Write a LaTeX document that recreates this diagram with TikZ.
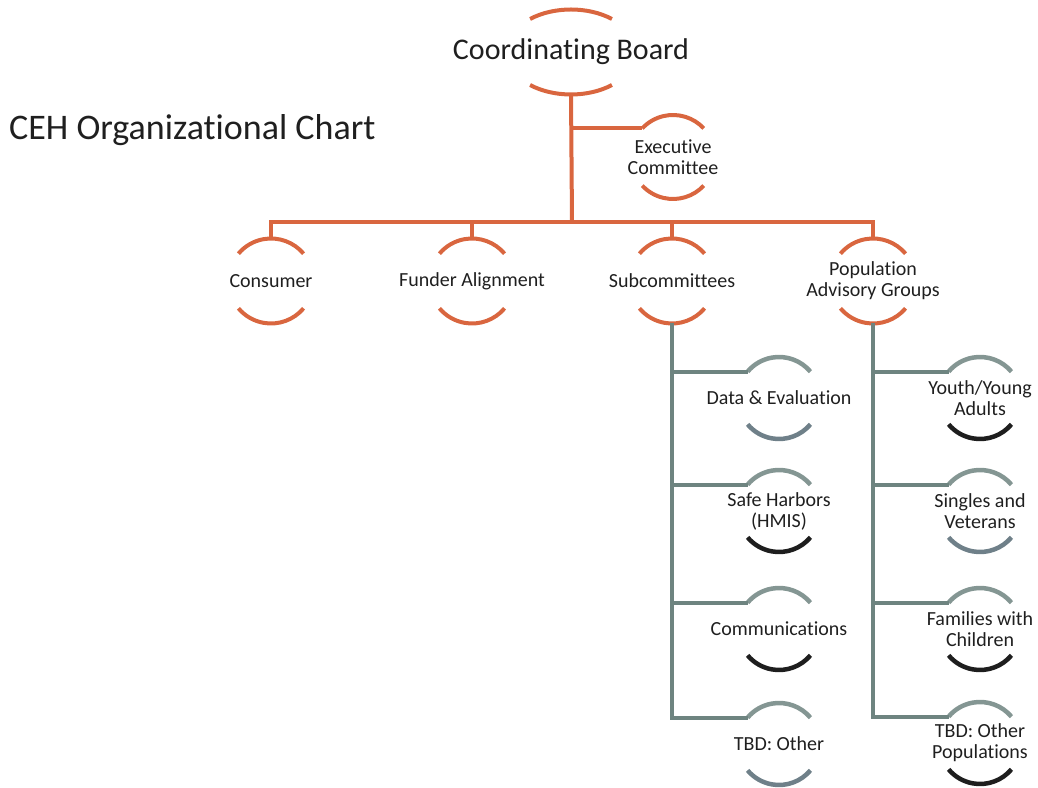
\documentclass[tikz,border=0pt]{standalone}
\usepackage{fontspec}
\setmainfont{Carlito}[Ligatures=CommonOff]
\usetikzlibrary{calc}
\definecolor{cehorange}{HTML}{D9663F}
\definecolor{cehtrunk}{HTML}{6E8480}
\definecolor{cehslate}{HTML}{6F8089}
\definecolor{cehdark}{HTML}{1E1E1E}
\definecolor{cehtext}{HTML}{1F1F1F}
\def\ringarcs[#1][#2](#3)(#4:#5){\draw[#1] ($(#3)+(#4:#5)$) arc (#4:180-#4:#5); \draw[#2] ($(#3)+(-#4:#5)$) arc (-#4:-180+#4:#5);}
\tikzset{
	orgline/.style={cehorange, line width=4pt},
	subline/.style={cehtrunk, line width=4pt},
	toparc/.style={cehtrunk!85, line width=4.5pt},
	slatearc/.style={cehslate, line width=4.5pt},
	darkarc/.style={cehdark, line width=4.5pt},
	box/.style={text=cehtext, align=center, inner sep=0pt, font=\fontsize{20}{21}\selectfont}
}

\begin{document}
\begin{tikzpicture}[x=1pt,y=1pt]
		\useasboundingbox (0,0) rectangle (1038,787);
		
		\node[anchor=base west, inner sep=0pt, text=cehtext, font=\fontsize{36}{40}\selectfont] (title) at (9,647) {CEH Organizational Chart};
		
		%%%%% TOP %%%%%
		\node[box, font=\fontsize{30}{34}\selectfont] (board) at (571,735) {Coordinating Board};
		\ringarcs[orgline][orgline](board)(51:65pt and 42.5pt)
		\node[box] (exec) at (673,630) {Executive\\Committee};
		\ringarcs[orgline][orgline](exec)(43:42pt)
		
		\node[box] (consumer) at (271,506) {Consumer};
		\node[box] (funder) at (472,506) {Funder Alignment};
		\node[box] (subcom) at (672,506) {Subcommittees};
		\node[box] (popgrp) at (873,506) {Population\\Advisory Groups};
		\foreach \n in {consumer,funder,subcom,popgrp} {\ringarcs[orgline][orgline](\n)(40:42.5pt)}
		
		\coordinate (boardfoot) at ($(board)+(0,-42.5)$);
		\coordinate (execjoin) at ($(exec)+(137:42pt)$);
		\coordinate (bar) at (572,565);
		\draw[orgline] (boardfoot) -- (bar);
		\draw[orgline] (boardfoot |- execjoin) -- (execjoin);
		\draw[orgline] ($(consumer)+(0,42.5)$) -- (consumer |- bar) -- (popgrp |- bar) -- ($(popgrp)+(0,42.5)$);
		\foreach \n in {funder,subcom} {\draw[orgline] (\n |- bar) -- ($(\n)+(0,42.5)$);}
		
		%%%%% SUBCOMMITTEES %%%%%
		\node[box] (data) at (779,389) {Data \& Evaluation};
		\node[box] (safe) at (779,276) {Safe Harbors\\(HMIS)};
		\node[box] (comms) at (779,158) {Communications};
		\node[box] (tbdsub) at (779,43) {TBD: Other};
		
		%%%%% POPULATIONS %%%%%
		\node[box] (youth) at (980,389) {Youth/Young\\Adults};
		\node[box] (singles) at (980,276) {Singles and\\Veterans};
		\node[box] (families) at (980,158) {Families with\\Children};
		\node[box] (tbdpop) at (980,44) {TBD: Other\\Populations};
		
		\foreach \n/\c in {data/slatearc,safe/darkarc,comms/darkarc,tbdsub/slatearc,youth/darkarc,singles/slatearc,families/darkarc,tbdpop/darkarc} {
			\ringarcs[toparc][\c](\n)(40:41pt)
			\coordinate (\n-join) at ($(\n)+(140:41pt)$);
		}
		
		\coordinate (subfoot) at ($(subcom)+(0,-42.5)$);
		\coordinate (popfoot) at ($(popgrp)+(0,-42.5)$);
		\draw[subline] (subfoot) -- (subfoot |- tbdsub-join) -- (tbdsub-join);
		\draw[subline] (popfoot) -- (popfoot |- tbdpop-join) -- (tbdpop-join);
		\foreach \n in {data,safe,comms} {\draw[subline] (subfoot |- \n-join) -- (\n-join);}
		\foreach \n in {youth,singles,families} {\draw[subline] (popfoot |- \n-join) -- (\n-join);}
		
	\end{tikzpicture}
\end{document}
